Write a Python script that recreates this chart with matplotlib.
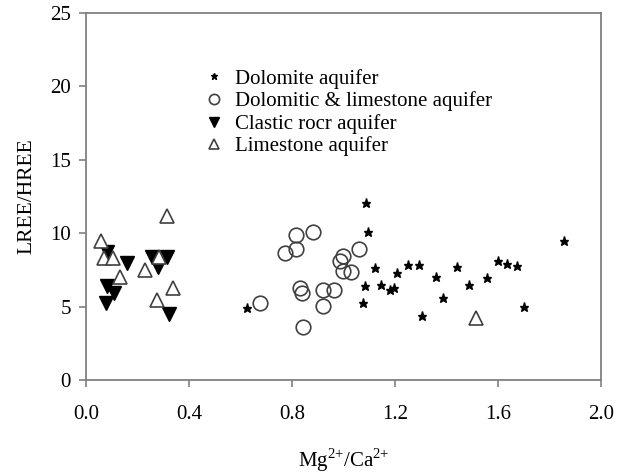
import matplotlib
matplotlib.use('Agg')
import matplotlib.pyplot as plt

plt.rcParams['font.family'] = ['Liberation Serif', 'DejaVu Serif']
plt.rcParams['mathtext.fontset'] = 'custom'
plt.rcParams['mathtext.rm'] = 'Liberation Serif'

# Mg/Ca ratio vs LREE/HREE
dolomite_x = [0.625, 1.077, 1.084, 1.088, 1.094, 1.123, 1.145, 1.181, 1.197, 1.207,
              1.250, 1.294, 1.305, 1.361, 1.385, 1.441, 1.487, 1.558, 1.600, 1.636,
              1.673, 1.701, 1.857]
dolomite_y = [4.91, 5.26, 6.38, 12.07, 10.08, 7.60, 6.50, 6.10, 6.29, 7.32,
              7.80, 7.80, 4.38, 7.02, 5.58, 7.71, 6.47, 6.93, 8.13, 7.90,
              7.78, 4.98, 9.46]

dol_lime_x = [0.677, 0.843, 0.830, 0.837, 0.772, 0.815, 0.817, 0.882, 0.919, 0.919,
              0.964, 0.986, 0.999, 0.999, 1.028, 1.062]
dol_lime_y = [5.26, 3.60, 6.29, 5.95, 8.63, 9.90, 8.93, 10.08, 6.10, 5.03,
              6.10, 8.13, 8.47, 7.44, 7.39, 8.93]

clastic_x = [0.083, 0.161, 0.256, 0.278, 0.313, 0.083, 0.109, 0.077, 0.321]
clastic_y = [8.70, 8.00, 8.35, 7.73, 8.40, 6.40, 5.95, 5.26, 4.52]

limestone_x = [0.313, 0.060, 0.070, 0.103, 0.131, 0.230, 0.285, 0.337, 0.274, 1.515]
limestone_y = [11.16, 9.50, 8.29, 8.29, 7.05, 7.50, 8.35, 6.30, 5.44, 4.22]

fig = plt.figure(figsize=(6.24, 4.73), dpi=100)
# axes box: x 86..601 px, y 13..380 px
ax = fig.add_axes([86 / 624, (473 - 380) / 473, 515 / 624, 367 / 473])

ax.plot(dolomite_x, dolomite_y, '*', color='black', ms=6.5, ls='none', label='Dolomite aquifer')
ax.plot(dol_lime_x, dol_lime_y, 'o', mfc='none', mec='#404040', mew=1.2, ms=10.5, ls='none',
        label='Dolomitic & limestone aquifer')
ax.plot(clastic_x, clastic_y, 'v', color='black', ms=10.5, ls='none', label='Clastic rocr aquifer')
ax.plot(limestone_x, limestone_y, '^', mfc='white', mec='#404040', mew=1.2, ms=10.5, ls='none',
        label='Limestone aquifer')

ax.set_xlim(0, 2.0)
ax.set_ylim(0, 25)
ax.set_xticks([0.0, 0.4, 0.8, 1.2, 1.6, 2.0])
ax.set_xticklabels(['0.0', '0.4', '0.8', '1.2', '1.6', '2.0'])
ax.set_yticks([0, 5, 10, 15, 20, 25])

for s in ax.spines.values():
    s.set_color('#808080')
    s.set_linewidth(1.3)
ax.tick_params(direction='out', length=5, width=1.2, color='#808080', labelsize=15)
ax.tick_params(axis='x', pad=13)
ax.tick_params(axis='y', pad=6)

ax.set_xlabel(r'Mg$^{2{+}}$/Ca$^{2{+}}$', fontsize=15, labelpad=16)
ax.set_ylabel('LREE/HREE', fontsize=15.5, labelpad=10)

leg = ax.legend(loc='upper left', bbox_to_anchor=(0.2, 0.888), frameon=False, fontsize=15,
                handlelength=1.0, handletextpad=0.5, labelspacing=0.13, markerscale=0.7,
                borderpad=0.2)

fig.savefig('out.png', dpi=100)
